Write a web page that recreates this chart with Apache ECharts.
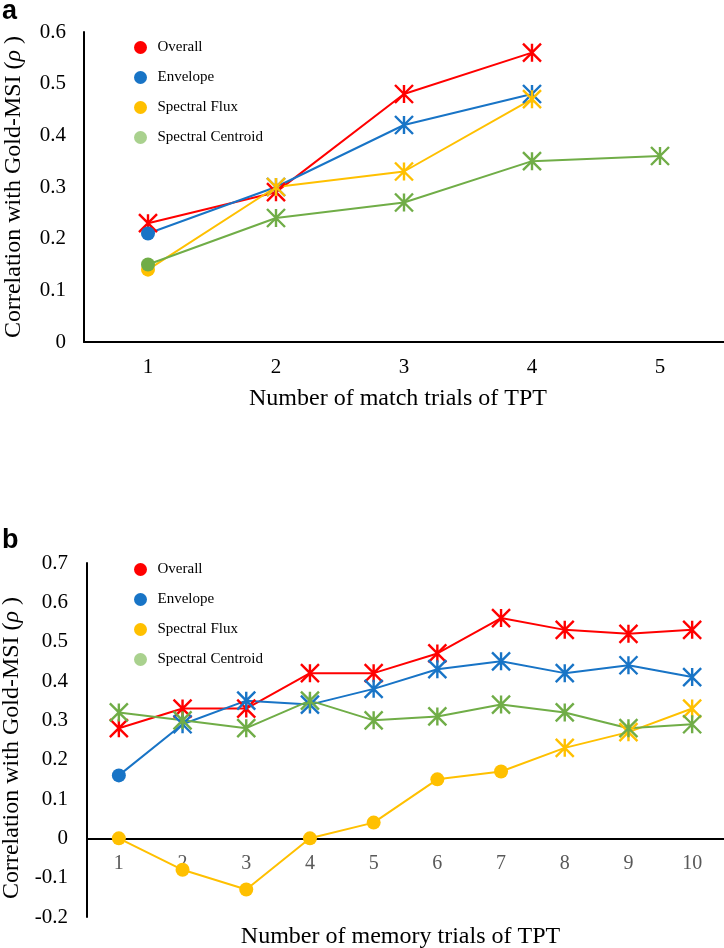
<!DOCTYPE html>
<html><head><meta charset="utf-8">
<script src="https://cdn.jsdelivr.net/npm/echarts@6/dist/echarts.min.js"></script>
<style>html,body{margin:0;padding:0;background:#fff}#c{width:724px;height:948px}</style>
</head><body><div id="c"></div>
<script>
const seriesNames = ['Overall', 'Envelope', 'Spectral Flux', 'Spectral Centroid'];
const lineColors = ['#FF0000', '#1874C6', '#FFC000', '#70AD47'];
const legendColors = ['#FF0000', '#1874C6', '#FFC000', '#A9D18E'];

// Panel a: match trials
const matchTrials = ['1', '2', '3', '4', '5'];
const matchOverall   = [0.23, 0.29, 0.48, 0.56, null];
const matchEnvelope  = [0.21, 0.30, 0.42, 0.48, null];
const matchFlux      = [0.14, 0.30, 0.33, 0.47, null];
const matchCentroid  = [0.15, 0.24, 0.27, 0.35, 0.36];
// 1 = asterisk marker (significant), 0 = filled circle
const matchOverallSig  = [1, 1, 1, 1, 0];
const matchEnvelopeSig = [0, 1, 1, 1, 0];
const matchFluxSig     = [0, 1, 1, 1, 0];
const matchCentroidSig = [0, 1, 1, 1, 1];

// Panel b: memory trials
const memoryTrials = ['1', '2', '3', '4', '5', '6', '7', '8', '9', '10'];
const memoryOverall  = [0.28, 0.33, 0.33, 0.42, 0.42, 0.47, 0.56, 0.53, 0.52, 0.53];
const memoryEnvelope = [0.16, 0.29, 0.35, 0.34, 0.38, 0.43, 0.45, 0.42, 0.44, 0.41];
const memoryFlux     = [0.00, -0.08, -0.13, 0.00, 0.04, 0.15, 0.17, 0.23, 0.27, 0.33];
const memoryCentroid = [0.32, 0.30, 0.28, 0.35, 0.30, 0.31, 0.34, 0.32, 0.28, 0.29];
const memoryOverallSig  = [1, 1, 1, 1, 1, 1, 1, 1, 1, 1];
const memoryEnvelopeSig = [0, 1, 1, 1, 1, 1, 1, 1, 1, 1];
const memoryFluxSig     = [0, 0, 0, 0, 0, 0, 0, 1, 1, 1];
const memoryCentroidSig = [1, 1, 1, 1, 1, 1, 1, 1, 1, 1];

const yTitle = 'Correlation with Gold-MSI ({i|ρ} )';
const xTitleA = 'Number of match trials of TPT';
const xTitleB = 'Number of memory trials of TPT';

const STAR = 'path://M0,0L10,10M10,0L0,10M5,0L5,10';
const SERIF = 'Liberation Serif';

function mk(idx, values, sig, axisIdx) {
  const color = lineColors[idx];
  return {
    type: 'line',
    name: seriesNames[idx],
    xAxisIndex: axisIdx,
    yAxisIndex: axisIdx,
    showAllSymbol: true,
    symbolKeepAspect: true,
    lineStyle: { color: color, width: 2 },
    itemStyle: { color: legendColors[idx] },
    emphasis: { disabled: true },
    data: values.map((v, i) => v == null ? '-' : {
      value: v,
      symbol: sig[i] ? STAR : 'circle',
      symbolSize: sig[i] ? 18 : 14,
      itemStyle: sig[i]
        ? { color: color, borderColor: color, borderWidth: 2.4 }
        : { color: color, borderWidth: 0 }
    })
  };
}

function legendCfg(top) {
  return {
    orient: 'vertical', left: 129, top: top,
    icon: 'circle', itemWidth: 24, itemHeight: 13, itemGap: 15,
    selectedMode: false,
    itemStyle: { borderWidth: 0 },
    textStyle: { fontFamily: SERIF, fontSize: 15, color: '#000' },
    data: seriesNames.map((n, i) => ({ name: n, itemStyle: { color: legendColors[i], borderWidth: 0 } }))
  };
}

function yName(pad) {
  return { fontFamily: SERIF, fontSize: 24, color: '#000', padding: pad,
    rich: { i: { fontFamily: SERIF, fontSize: 24, fontStyle: 'italic', color: '#000' } } };
}

const chart = echarts.init(document.getElementById('c'));
chart.setOption({
  animation: false,
  backgroundColor: '#fff',
  title: [
    { text: 'a', left: 2, top: -2, padding: 0, textStyle: { fontFamily: 'Liberation Sans', fontWeight: 'bold', fontSize: 27, color: '#000' } },
    { text: 'b', left: 2, top: 527, padding: 0, textStyle: { fontFamily: 'Liberation Sans', fontWeight: 'bold', fontSize: 27, color: '#000' } }
  ],
  legend: [legendCfg(35), legendCfg(557)],
  grid: [
    { left: 84, top: 32, width: 640, height: 310, containLabel: false, outerBoundsMode: 'none' },
    { left: 87, top: 563, width: 637, height: 354, containLabel: false, outerBoundsMode: 'none' }
  ],
  xAxis: [
    {
      type: 'category', gridIndex: 0, data: matchTrials, boundaryGap: true,
      axisLine: { lineStyle: { color: '#000', width: 2 } },
      axisTick: { show: false },
      axisLabel: { fontFamily: SERIF, fontSize: 21, color: '#000', margin: 15 },
      name: xTitleA, nameLocation: 'middle', nameGap: 45,
      nameTextStyle: { fontFamily: SERIF, fontSize: 24, color: '#000', padding: [0, 12, 0, 0] }
    },
    {
      type: 'category', gridIndex: 1, data: memoryTrials, boundaryGap: true,
      position: 'bottom',
      axisLine: { onZero: false, lineStyle: { color: '#000', width: 2 } },
      axisTick: { show: false },
      axisLabel: { fontFamily: SERIF, fontSize: 20, color: '#595959', margin: 15 },
      name: xTitleB, nameLocation: 'middle', nameGap: 86,
      nameTextStyle: { fontFamily: SERIF, fontSize: 24, color: '#000', padding: [0, 10, 0, 0] }
    }
  ],
  yAxis: [
    {
      type: 'value', gridIndex: 0, min: 0, max: 0.6, interval: 0.1,
      splitLine: { show: false },
      axisLine: { show: true, lineStyle: { color: '#000', width: 2 } },
      axisTick: { show: false },
      axisLabel: { fontFamily: SERIF, fontSize: 21, color: '#000', margin: 18 },
      name: yTitle, nameLocation: 'middle', nameGap: 58, nameRotate: 90,
      nameTextStyle: yName([0, 0, 0, 0])
    },
    {
      type: 'value', gridIndex: 1, min: -0.2, max: 0.7, interval: 0.1,
      splitLine: { show: false },
      axisLine: { show: true, onZero: false, lineStyle: { color: '#000', width: 2 } },
      axisTick: { show: false },
      axisLabel: { fontFamily: SERIF, fontSize: 21, color: '#000', margin: 19 },
      name: yTitle, nameLocation: 'middle', nameGap: 61, nameRotate: 90,
      nameTextStyle: yName([0, 16, 0, 0])
    }
  ],
  series: [
    mk(0, matchOverall, matchOverallSig, 0),
    mk(1, matchEnvelope, matchEnvelopeSig, 0),
    mk(2, matchFlux, matchFluxSig, 0),
    mk(3, matchCentroid, matchCentroidSig, 0),
    mk(0, memoryOverall, memoryOverallSig, 1),
    mk(1, memoryEnvelope, memoryEnvelopeSig, 1),
    mk(2, memoryFlux, memoryFluxSig, 1),
    mk(3, memoryCentroid, memoryCentroidSig, 1)
  ]
});
// place the memory-trial category axis on the value 0 line of its y axis
const yAxisB = chart.getModel().getComponent('yAxis', 1);
const extentB = yAxisB.axis.scale.getExtent();
const zeroPx = chart.convertToPixel({ yAxisIndex: 1 }, 0);
const bottomPx = chart.convertToPixel({ yAxisIndex: 1 }, extentB[0]);
chart.setOption({ xAxis: [{}, { offset: zeroPx - bottomPx }] });
</script>
</body></html>
